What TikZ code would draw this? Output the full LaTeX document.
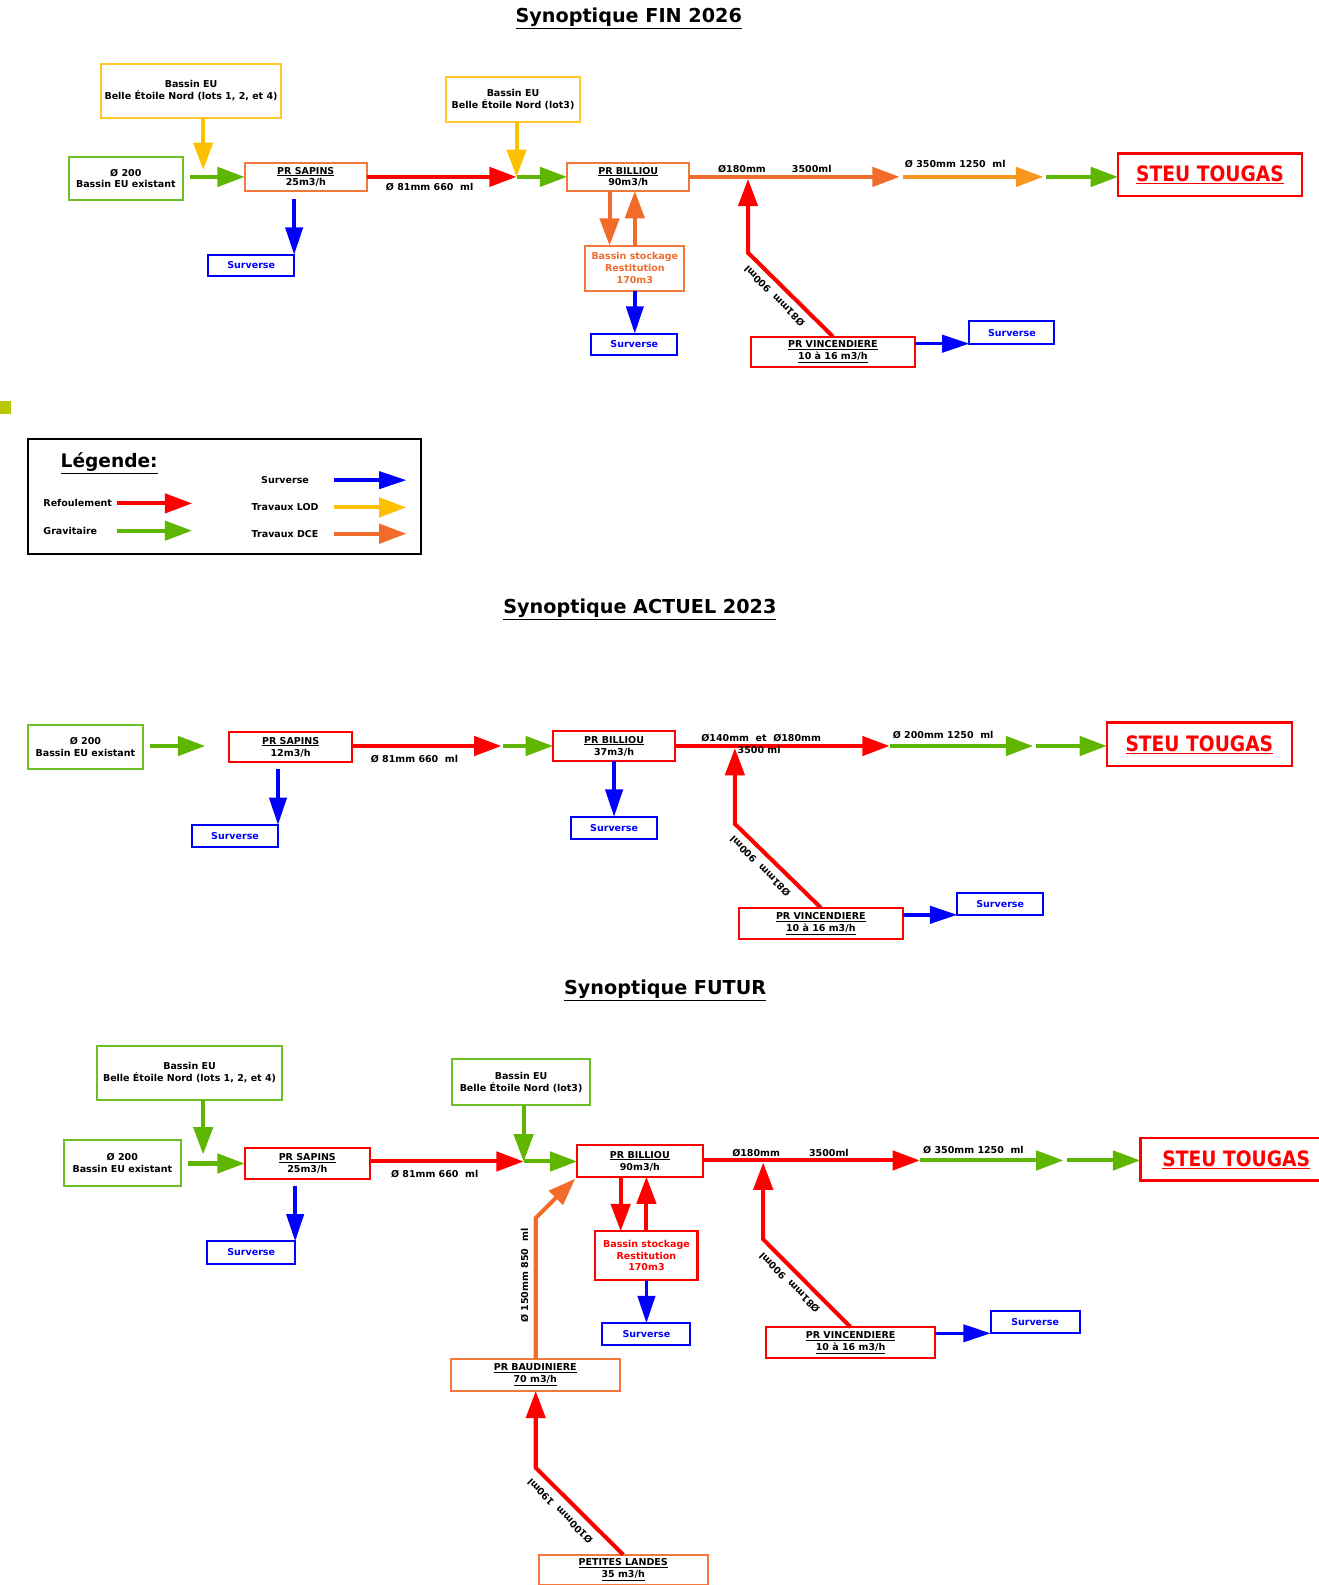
\documentclass[tikz,border=0pt]{standalone}
\usepackage{fontspec}
\setmainfont{DejaVu Sans}
\usepackage{graphicx}
\usetikzlibrary{arrows.meta,calc}
\definecolor{cred}{RGB}{255,0,0}
\definecolor{cgreen}{RGB}{95,182,0}
\definecolor{cgbox}{RGB}{110,190,40}
\definecolor{cyellow}{RGB}{255,192,0}
\definecolor{cybox}{RGB}{255,200,40}
\definecolor{corange}{RGB}{241,107,42}
\definecolor{cobox}{RGB}{242,120,60}
\definecolor{clorange}{RGB}{248,150,30}
\definecolor{cblue}{RGB}{0,0,255}
\definecolor{csq}{RGB}{181,200,0}
\newcommand{\steutxt}{\scalebox{0.88}[1]{\fontsize{21}{21}\selectfont\underline{STEU TOUGAS}}}
\begin{document}
\begin{tikzpicture}[x=1pt,y=-1pt,
 every node/.style={font=\fontsize{9.4}{11.8}\selectfont\bfseries, inner sep=0pt, outer sep=0pt},
 box/.style={draw, line width=2pt, fill=white, align=center},
 ttl/.style={font=\fontsize{19}{20}\selectfont\bfseries},
 lbl/.style={font=\fontsize{9.4}{11.8}\selectfont\bfseries},
 flow/.style={line width=4pt, -{Triangle[length=27pt,width=19pt]}},
 flowb/.style={line width=3.5pt, -{Triangle[length=27pt,width=17pt]}},
]
\useasboundingbox (0,0) rectangle (1304,1568);

%% ================= FIN 2026 =================
\node[ttl] (t1) at (622,18) {\underline{Synoptique FIN 2026}};
\node[box, draw=cybox, minimum width=178, minimum height=53] (y1) at (189,90) {Bassin EU\\Belle Étoile Nord (lots 1, 2, et 4)};
\node[box, draw=cybox, minimum width=133, minimum height=45] (y2) at (507.5,98.5) {Bassin EU\\Belle Étoile Nord (lot3)};
\node[box, draw=cgbox, minimum width=113, minimum height=43] (g1) at (124.5,176.5) {Ø 200\\Bassin EU existant};
\node[box, draw=cobox, minimum width=121, minimum height=28] (sap1) at (302.5,175) {\underline{PR SAPINS}\\25m3/h};
\node[box, draw=cblue, text=cblue, minimum width=85, minimum height=21] (sv1) at (248.5,262.5) {Surverse};
\node[box, draw=cobox, minimum width=121, minimum height=28] (bil1) at (621.5,175) {\underline{PR BILLIOU}\\90m3/h};
\node[box, draw=cobox, text=corange, minimum width=98, minimum height=45] (bs1) at (628,265.5) {Bassin stockage\\Restitution\\170m3};
\node[box, draw=cblue, text=cblue, minimum width=85, minimum height=21] (sv2) at (627.5,340.5) {Surverse};
\node[box, draw=cred, text=cred, line width=2.5pt, minimum width=182, minimum height=42] (steu1) at (1197,173) {\steutxt};
\node[box, draw=cred, minimum width=162, minimum height=30] (vin1) at (824,348) {\underline{PR VINCENDIERE}\\\underline{10 à 16 m3/h}};
\node[box, draw=cblue, text=cblue, minimum width=84, minimum height=22] (sv3) at (1001,329) {Surverse};

\coordinate (ja1) at (201,168);
\coordinate (ga1) at (188,175);
\coordinate (jb1) at (511,175);
\coordinate (jc1) at (890,175);
\coordinate (jd1) at (1032,175);
\coordinate (kv1) at (740,250);
\coordinate (jv1) at (740,177);
\coordinate (dn1) at (603,0);
\coordinate (sx1) at (291,0);
\coordinate (bv1) at (906,340);

\draw[flow, cyellow] (ja1 |- y1.south) -- (ja1);
\draw[flow, cgreen] (ga1) -- (sap1.west);
\draw[flowb, cblue] ($(sap1.south -| sx1)+(0,8)$) -- (sx1 |- sv1.north);
\draw[flow, cred] (sap1.east) -- (jb1);
\draw[flow, cyellow] (jb1 |- y2.south) -- (jb1);
\draw[flow, cgreen] (jb1) -- (bil1.west);
\draw[flow, corange] (bil1.east) -- (jc1);
\draw[flow, clorange] ($(jc1)+(3,0)$) -- (jd1);
\draw[flow, cgreen] ($(jd1)+(3,0)$) -- (steu1.west |- jd1);
\draw[flow, corange] (bil1.south -| dn1) -- (dn1 |- bs1.north);
\draw[flow, corange] (bs1.north) -- (bs1.north |- bil1.south);
\draw[flowb, cblue] (bs1.south) -- (bs1.south |- sv2.north);
\draw[flow, cred] (vin1.north) -- (kv1) -- (jv1);
\draw[flowb, cblue] (vin1.east |- bv1) -- (sv3.west |- bv1);

\node[lbl] (l11) at (425,185) {Ø 81mm 660~~ml};
\node[lbl] (l12) at (734,167) {Ø180mm};
\node[lbl] (l13) at (803,167) {3500ml};
\node[lbl] (l14) at (945,162) {Ø 350mm 1250~~ml};
\node[lbl, rotate=135] (l15) at (766,293) {Ø81mm~~900ml};

\fill[csq] (0,397) rectangle (11,410);

%% ================= LEGEND =================
\node[draw, line width=2pt, minimum width=388, minimum height=114] (leg) at (222,491) {};
\node[font=\fontsize{18.4}{20}\selectfont\bfseries] (legt) at (108,458) {\underline{Légende:}};
\node[anchor=west] (lr) at (43,498) {Refoulement};
\node[anchor=west] (lg) at (43,525) {Gravitaire};
\node (ls) at (282,475) {Surverse};
\node (ll) at (282,502) {Travaux LOD};
\node (ld) at (282,528) {Travaux DCE};
\coordinate (la) at (116,0);
\coordinate (lb) at (330,0);
\draw[flow, cred] (lr -| la) -- ++(74,0);
\draw[flow, cgreen] (lg -| la) -- ++(74,0);
\draw[flowb, cblue] (ls -| lb) -- ++(72,0);
\draw[flow, cyellow] (ll -| lb) -- ++(72,0);
\draw[flow, corange] (ld -| lb) -- ++(72,0);

%% ================= ACTUEL 2023 =================
\node[ttl] (t2) at (633,603) {\underline{Synoptique ACTUEL 2023}};
\node[box, draw=cgbox, minimum width=113, minimum height=44] (g2) at (84.5,739) {Ø 200\\Bassin EU existant};
\node[box, draw=cred, minimum width=121, minimum height=30] (sap2) at (287.5,739) {\underline{PR SAPINS}\\12m3/h};
\node[box, draw=cblue, text=cblue, minimum width=85, minimum height=22] (sv4) at (232.5,827) {Surverse};
\node[box, draw=cred, minimum width=121, minimum height=30] (bil2) at (607.5,738) {\underline{PR BILLIOU}\\37m3/h};
\node[box, draw=cblue, text=cblue, minimum width=85, minimum height=22] (sv5) at (607.5,819) {Surverse};
\node[box, draw=cred, text=cred, line width=2.5pt, minimum width=183, minimum height=43] (steu2) at (1186.5,736.5) {\steutxt};
\node[box, draw=cred, minimum width=162, minimum height=31] (vin2) at (812,913.5) {\underline{PR VINCENDIERE}\\\underline{10 à 16 m3/h}};
\node[box, draw=cblue, text=cblue, minimum width=85, minimum height=22] (sv6) at (989.5,894) {Surverse};

\coordinate (ga2a) at (148,738);
\coordinate (ga2) at (203,738);
\coordinate (jb2) at (496,738);
\coordinate (jc2) at (880,738);
\coordinate (jd2) at (1022,738);
\coordinate (kv2) at (727,815);
\coordinate (jv2) at (727,740);
\coordinate (sx2) at (275,0);
\coordinate (bv2) at (894,905);

\draw[flow, cgreen] (ga2a) -- (ga2);
\draw[flowb, cblue] ($(sap2.south -| sx2)+(0,7)$) -- (sx2 |- sv4.north);
\draw[flow, cred] (sap2.east |- jb2) -- (jb2);
\draw[flow, cgreen] ($(jb2)+(2,0)$) -- (bil2.west);
\draw[flowb, cblue] (bil2.south) -- (bil2.south |- sv5.north);
\draw[flow, cred] (bil2.east) -- (jc2);
\draw[flow, cgreen] (jc2) -- (jd2);
\draw[flow, cgreen] ($(jd2)+(3,0)$) -- (steu2.west |- jd2);
\draw[flow, cred] (vin2.north) -- (kv2) -- (jv2);
\draw[flowb, cblue] (vin2.east |- bv2) -- (sv6.west |- bv2);

\node[lbl] (l21) at (410,751) {Ø 81mm 660~~ml};
\node[lbl] (l22) at (753,730) {Ø140mm~~et~~Ø180mm};
\node[lbl] (l23) at (751,742) {3500 ml};
\node[lbl] (l24) at (933,727) {Ø 200mm 1250~~ml};
\node[lbl, rotate=135] (l25) at (752,857) {Ø81mm~~900ml};

%% ================= FUTUR =================
\node[ttl] (t3) at (658,980) {\underline{Synoptique FUTUR}};
\node[box, draw=cgbox, minimum width=183, minimum height=53] (g3) at (187.5,1061.5) {Bassin EU\\Belle Étoile Nord (lots 1, 2, et 4)};
\node[box, draw=cgbox, minimum width=137, minimum height=45] (g4) at (515.5,1070.5) {Bassin EU\\Belle Étoile Nord (lot3)};
\node[box, draw=cgbox, minimum width=116, minimum height=45] (g5) at (121,1150.5) {Ø 200\\Bassin EU existant};
\node[box, draw=cred, minimum width=124, minimum height=30] (sap3) at (304,1151) {\underline{PR SAPINS}\\25m3/h};
\node[box, draw=cblue, text=cblue, minimum width=87, minimum height=22] (sv7) at (248.5,1239) {Surverse};
\node[box, draw=cred, minimum width=124, minimum height=31] (bil3) at (633,1148.5) {\underline{PR BILLIOU}\\90m3/h};
\node[box, draw=cred, text=cred, line width=2.5pt, minimum width=190, minimum height=42] (steu3) at (1223,1147) {\steutxt};
\node[box, draw=cred, text=cred, minimum width=101, minimum height=48] (bs3) at (639.5,1242) {Bassin stockage\\Restitution\\170m3};
\node[box, draw=cblue, text=cblue, minimum width=87, minimum height=22] (sv8) at (639.5,1320) {Surverse};
\node[box, draw=cred, minimum width=167, minimum height=30] (vin3) at (841.5,1328) {\underline{PR VINCENDIERE}\\\underline{10 à 16 m3/h}};
\node[box, draw=cblue, text=cblue, minimum width=88, minimum height=22] (sv9) at (1024,1308) {Surverse};
\node[box, draw=cobox, minimum width=167, minimum height=32] (bau) at (529.5,1360) {\underline{PR BAUDINIERE}\\\underline{70 m3/h}};
\node[box, draw=cobox, minimum width=167, minimum height=30] (pl) at (616.5,1553) {\underline{PETITES LANDES}\\\underline{35 m3/h}};

\coordinate (ja3) at (201,1142);
\coordinate (ga3) at (186,1151);
\coordinate (jb3) at (518,1149);
\coordinate (jc3) at (910,1148);
\coordinate (jd3) at (1052,1148);
\coordinate (kv3) at (755,1226);
\coordinate (jv3) at (755,1150);
\coordinate (sx3) at (292,0);
\coordinate (dn3) at (614,0);
\coordinate (kb3) at (530,1205);
\coordinate (kp3) at (530,1452);
\coordinate (bv3) at (926,1319);

\draw[flow, cgreen] (ja3 |- g3.south) -- (ja3);
\draw[flow, cgreen] (ga3) -- (sap3.west);
\draw[flowb, cblue] ($(sap3.south -| sx3)+(0,7)$) -- (sx3 |- sv7.north);
\draw[flow, cred] (sap3.east |- jb3) -- (jb3);
\draw[flow, cgreen] (jb3 |- g4.south) -- (jb3);
\draw[flow, cgreen] (jb3) -- (bil3.west |- jb3);
\draw[flow, cred] (bil3.east |- jc3) -- (jc3);
\draw[flow, cgreen] (jc3) -- (jd3);
\draw[flow, cgreen] ($(jd3)+(4,0)$) -- (steu3.west |- jd3);
\draw[flow, cred] (bil3.south -| dn3) -- (dn3 |- bs3.north);
\draw[flow, cred] (bs3.north) -- (bs3.north |- bil3.south);
\draw[flowb, cblue] (bs3.south) -- (bs3.south |- sv8.north);
\draw[flow, cred] (vin3.north) -- (kv3) -- (jv3);
\draw[flowb, cblue] (vin3.east |- bv3) -- (sv9.west |- bv3);
\draw[flow, corange] (bau.north -| kb3) -- (kb3) -- ($(bil3.south west)+(-2,2)$);
\draw[flow, cred] (pl.north) -- (kp3) -- (kp3 |- bau.south);

\node[lbl] (l31) at (430,1161) {Ø 81mm 660~~ml};
\node[lbl] (l32) at (748,1141) {Ø180mm};
\node[lbl] (l33) at (820,1141) {3500ml};
\node[lbl] (l34) at (963,1138) {Ø 350mm 1250~~ml};
\node[lbl, rotate=135] (l35) at (781,1269) {Ø81mm~~900ml};
\node[lbl, rotate=90] (l36) at (519,1262) {Ø 150mm 850~~ml};
\node[lbl, rotate=135] (l37) at (554,1495) {Ø100mm~~190ml};
\end{tikzpicture}
\end{document}
